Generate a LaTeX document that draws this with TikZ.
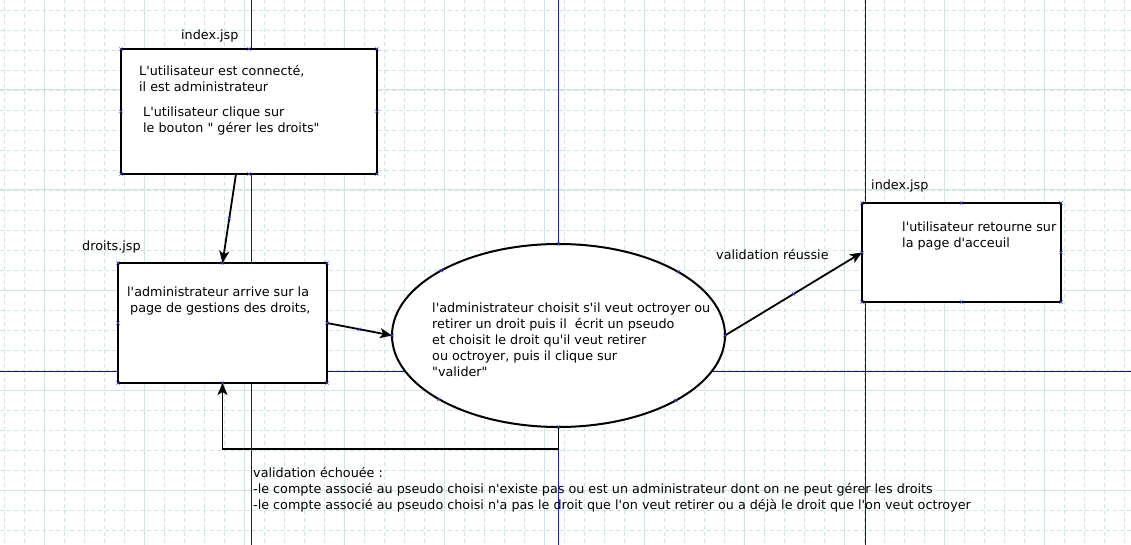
\documentclass[tikz,border=0pt]{standalone}
\usepackage{fontspec}
\newfontfamily\dv{DejaVu Sans}
\usetikzlibrary{shapes.geometric,arrows.meta,calc}
\definecolor{gridc}{RGB}{208,228,226}
\definecolor{navyl}{RGB}{20,20,130}
\definecolor{bluel}{RGB}{30,30,190}
\definecolor{cptc}{RGB}{60,60,220}
\begin{document}
\begin{tikzpicture}[x=1pt,y=-1pt,
 box/.style={draw, fill=white, line width=2pt, inner sep=0pt, outer sep=0pt, rectangle},
 txt/.style={font=\dv\fontsize{12.75}{16}\selectfont, anchor=base west, inner sep=0pt, align=left},
 arr/.style={line width=1.8pt, -{Stealth[length=12pt,width=10pt,inset=3pt]}},
 cpt/.style={draw=cptc, line width=0.6pt},
 gridmin/.style={draw=gridc, line width=0.8pt, dash pattern=on 4pt off 3pt},
 gridmaj/.style={draw=gridc, line width=1pt},
 guide/.style={draw=navyl, line width=1pt}]

\useasboundingbox (0,0) rectangle (1131,545);
\fill[white] (0,0) rectangle (1131,545);
% grid
\foreach \x in {4,24,...,1124} \draw[gridmin] (\x,0) -- (\x,545);
\foreach \y in {10,30,...,530} \draw[gridmin] (0,\y) -- (1131,\y);
\foreach \x in {44,144,...,1044} \draw[gridmaj] (\x,0) -- (\x,545);
\foreach \y in {90,190,...,490} \draw[gridmaj] (0,\y) -- (1131,\y);
% guide lines
\draw[guide] (251,0) -- (251,545);
\draw[guide] (865,0) -- (865,545);
\draw[guide] (0,371) -- (1131,371);
\draw[guide, draw=bluel] (558,0) -- (558,545);

% shapes
\node[box, minimum width=256pt, minimum height=125pt] (b1) at (249,111.5) {};
\node[box, minimum width=209pt, minimum height=120pt] (b2) at (222.5,323) {};
\node[box, ellipse, minimum width=333pt, minimum height=183pt] (e) at (558.5,335.5) {};
\node[box, minimum width=199pt, minimum height=99pt] (b3) at (961.5,252.5) {};

% connectors
\coordinate (a1s) at ($(b1.south)+(-13,0)$);
\draw[arr] (a1s) -- (b2.north);
\draw[arr] (b2.east) -- (e.west);
\draw[arr] (e.east) -- (b3.west);
\draw[arr] (e.south) -- ++(0,22) -| (b2.south);
\coordinate (m1) at ($(a1s)!0.5!(b2.north)$);
\coordinate (m2) at ($(b2.east)!0.5!(e.west)$);
\coordinate (m3) at ($(e.east)!0.5!(b3.west)$);

% texts (base anchor = baseline of last line)
\node[txt] (l1) at (181,39.5) {index.jsp};
\node[txt] (t1) at (139,91.5) {L'utilisateur est connecté,\\il est administrateur};
\node[txt] (t2) at (143,132.5) {L'utilisateur clique sur\\le bouton " gérer les droits"};
\node[txt] (l2) at (82,250.5) {droits.jsp};
\node[txt] (t3) at (127,312.5) {l'administrateur arrive sur la\\\hspace*{3pt}page de gestions des droits,};
\node[txt] (t4) at (432,376) {l'administrateur choisit s'il veut octroyer ou\\retirer un droit puis il\ \ écrit un pseudo\\et choisit le droit qu'il veut retirer\\ou octroyer, puis il clique sur\\"valider"};
\node[txt] (l3) at (871,189.5) {index.jsp};
\node[txt] (t5) at (902,247.5) {l'utilisateur retourne sur\\la page d'acceuil};
\node[txt] (l4) at (716,259.5) {validation réussie};
\node[txt] (t6) at (253,509.5) {validation échouée :\\-le compte associé au pseudo choisi n'existe pas ou est un administrateur dont on ne peut gérer les droits\\-le compte associé au pseudo choisi n'a pas le droit que l'on veut retirer ou a déjà le droit que l'on veut octroyer};

% connection point markers
\foreach \p in {b1.north west,b1.north,b1.north east,b1.east,b1.south east,b1.south,b1.south west,b1.west,
  b2.north west,b2.north,b2.north east,b2.east,b2.south east,b2.south,b2.south west,b2.west,
  b3.north west,b3.north,b3.north east,b3.east,b3.south east,b3.south,b3.south west,b3.west,
  e.north,e.south,e.east,e.west,e.28.8,e.151.2,e.208.8,e.331.2,m1,m2,m3}
  \draw[cpt] (\p) ++(-1.6,-1.6) -- ++(3.2,3.2) ++(0,-3.2) -- ++(-3.2,3.2);
\end{tikzpicture}
\end{document}
